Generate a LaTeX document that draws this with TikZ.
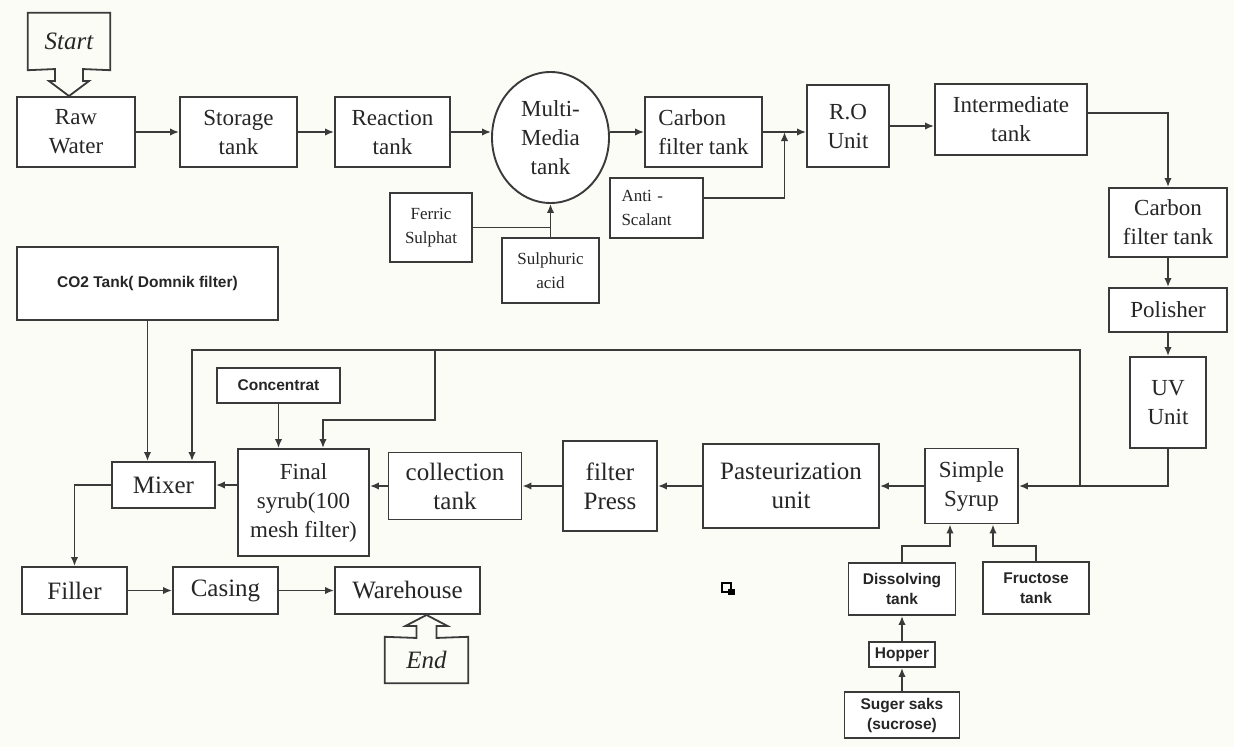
\documentclass[tikz,border=0pt]{standalone}
\usepackage{fontspec}
\setmainfont{Liberation Serif}
\newfontfamily\labelsans{Liberation Sans}
\usepackage{xcolor}
\usepackage{tikz}
\usetikzlibrary{arrows.meta,calc,shapes.geometric}
\definecolor{inkgray}{RGB}{58,58,58}
\definecolor{paper}{RGB}{252,252,246}

\begin{document}
\begin{tikzpicture}[x=1pt, y=-1pt, line join=miter,
    unit/.style={draw=inkgray, line width=1.9pt, fill=white, align=center, inner sep=0pt,
      text=black!85, font=\fontsize{23}{29}\selectfont},
    bigunit/.style={unit, font=\fontsize{25}{29}\selectfont},
    dose/.style={unit, font=\fontsize{17}{24}\selectfont},
    feed/.style={unit, font=\labelsans\bfseries\fontsize{15.5}{20}\selectfont},
    callout/.style={align=center, inner sep=0pt, text=black!85, font=\itshape\fontsize{25}{29}\selectfont},
    pipe/.style={draw=inkgray, line width=1.8pt},
    flow/.style={pipe, -{Latex[length=9pt,width=7.5pt]}}]
    \fill[paper] (0,0) rectangle (1234,747);

    \node[unit, minimum width=118, minimum height=70] (raw) at (76,132) {Raw\\Water};
    \node[unit, minimum width=117, minimum height=70] (stor) at (238.5,132) {Storage\\tank};
    \node[unit, minimum width=115, minimum height=70] (react) at (392.5,132) {Reaction\\tank};
    \node[unit, ellipse, minimum width=117, minimum height=131] (mmt) at (550.5,137.5) {Multi-\\Media\\tank};
    \node[unit, align=left, minimum width=117, minimum height=70] (carb1) at (703.5,132) {Carbon\\filter tank};
    \node[unit, minimum width=82, minimum height=82] (ro) at (848,126) {R.O\\Unit};
    \node[unit, minimum width=152, minimum height=71] (inter) at (1011,119.5) {Intermediate\\tank};
    \node[unit, minimum width=118, minimum height=69] (carb2) at (1168,222.5) {Carbon\\filter tank};
    \node[unit, minimum width=118, minimum height=44] (pol) at (1168,310) {Polisher};
    \node[unit, minimum width=76, minimum height=91] (uv) at (1168,402.5) {UV\\Unit};

    \node[dose, minimum width=82, minimum height=69] (ferric) at (431,227.5) {Ferric\\Sulphat};
    \node[dose, minimum width=97, minimum height=65] (sulph) at (550.5,270.5) {Sulphuric\\acid};
    \node[dose, align=left, text width=70, minimum width=93, minimum height=60] (anti) at (656.5,208) {Anti -\\Scalant};

    \node[unit, minimum width=93, minimum height=75] (simp) at (971.5,486) {Simple\\Syrup};
    \node[bigunit, minimum width=176, minimum height=84] (past) at (791,486) {Pasteurization\\unit};
    \node[bigunit, minimum width=94, minimum height=90] (fpress) at (610,486) {filter\\Press};
    \node[bigunit, minimum width=133, minimum height=67] (coll) at (455,486) {collection\\tank};
    \node[unit, minimum width=131, minimum height=107] (final) at (303.5,502.5) {Final\\syrub(100\\mesh filter)};
    \node[bigunit, minimum width=103, minimum height=46] (mixer) at (163.5,485) {Mixer};
    \node[feed, minimum width=123, minimum height=35] (conc) at (278.5,385.5) {Concentrat};
    \node[feed, minimum width=261, minimum height=73] (co2) at (147.5,283.5) {CO2 Tank( Domnik filter)};

    \node[bigunit, minimum width=105, minimum height=47] (filler) at (74.5,590.5) {Filler};
    \node[bigunit, minimum width=105, minimum height=47] (casing) at (225.5,590.5) {Casing};
    \node[bigunit, minimum width=145, minimum height=47] (ware) at (407.5,590.5) {Warehouse};

    \node[feed, minimum width=107, minimum height=52] (diss) at (902,589) {Dissolving\\tank};
    \node[feed, minimum width=106, minimum height=52] (fruc) at (1036,588) {Fructose\\tank};
    \node[feed, minimum width=66, minimum height=25] (hop) at (902,654.5) {Hopper};
    \node[feed, minimum width=115, minimum height=46] (sug) at (902,715) {Suger saks\\(sucrose)};

    \node[callout, minimum width=82, minimum height=57] (start) at (69,41.5) {Start};
    \coordinate (stip) at (start.south |- raw.north);
    \draw[pipe] (start.south east) -- ($(stip)+(14,-27)$) -- ($(stip)+(14,-15)$) -- ($(stip)+(20,-15)$)
      -- (stip) -- ($(stip)+(-20,-15)$) -- ($(stip)+(-14,-15)$) -- ($(stip)+(-14,-27)$)
      -- (start.south west) -- (start.north west) -- (start.north east) -- cycle;

    \node[callout, minimum width=83, minimum height=46] (finish) at (426.5,660) {End};
    \coordinate (etip) at (finish.north |- ware.south);
    \draw[pipe] (finish.north west) -- ($(etip)+(-10,23)$) -- ($(etip)+(-10,11)$) -- ($(etip)+(-21,11)$)
      -- (etip) -- ($(etip)+(21,11)$) -- ($(etip)+(10,11)$) -- ($(etip)+(10,23)$)
      -- (finish.north east) -- (finish.south east) -- (finish.south west) -- cycle;

    \draw[flow] (raw) -- (stor);
    \draw[flow] (stor) -- (react);
    \draw[flow] (react.east) -- (react.east -| mmt.west);
    \draw[flow] (mmt.east |- carb1.west) -- (carb1.west);
    \coordinate (mixpt) at ($(carb1.east)!0.5!(carb1.east -| ro.west)$);
    \draw[flow] (carb1.east) -- (carb1.east -| ro.west);
    \draw[flow] ([yshift=10]anti.east) -| (mixpt);
    \draw[pipe] (ferric.east) -- (ferric.east -| sulph.north);
    \draw[flow] (sulph.north) -- (mmt.south);
    \draw[flow] (ro.east) -- (ro.east -| inter.west);
    \draw[flow] ([yshift=6.5]inter.east) -| (carb2.north);
    \draw[flow] (carb2) -- (pol);
    \draw[flow] (pol) -- (uv);
    \draw[flow] (uv.south) |- (simp.east);

    \coordinate (tap) at (1080,486);
    \coordinate (ret) at (1080,350);
    \coordinate (br) at (435,350);
    \draw[flow] (tap) -- (ret) -| ([xshift=28.5]mixer.north);
    \draw[flow] (br) -- ++(0,70) -| ([xshift=19.5]final.north);
    \draw[flow] (co2.south) -- (co2.south |- mixer.north);
    \draw[flow] (conc.south) -- (conc.south |- final.north);

    \draw[flow] (simp) -- (past);
    \draw[flow] (past) -- (fpress);
    \draw[flow] (fpress) -- (coll);
    \draw[flow] (coll.west) -- (coll.west -| final.east);
    \draw[flow] (final.west |- mixer.east) -- (mixer.east);
    \draw[flow] (mixer.west) -| (filler.north);
    \draw[flow] (filler) -- (casing);
    \draw[flow] (casing) -- (ware);

    \draw[flow] (diss.north) -- ++(0,-16) -| ([xshift=-21.5]simp.south);
    \draw[flow] (fruc.north) -- ++(0,-15) -| ([xshift=21.5]simp.south);
    \draw[flow] (hop) -- (diss);
    \draw[flow] (sug) -- (hop);

    \draw[line width=2pt] (722,583) rectangle (731,592);
    \fill (728,589) rectangle (735,595);
\end{tikzpicture}
\end{document}
